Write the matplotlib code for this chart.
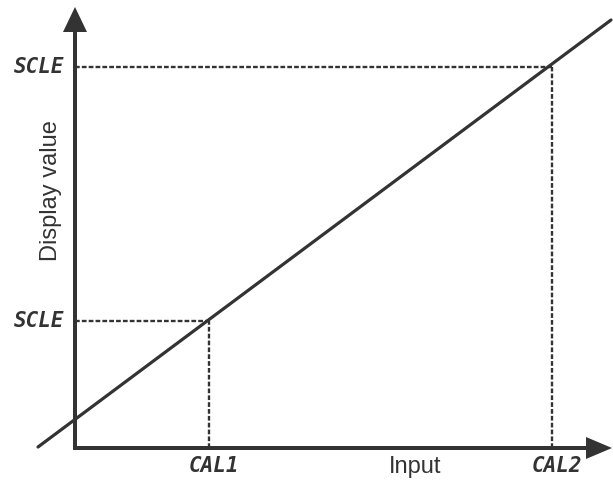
import matplotlib.pyplot as plt

# readings (units: pixels from the axis origin)
cal_inputs = [134, 477]          # CAL1, CAL2 on the input axis
scle_values = [127, 381]         # display value reached at CAL1 / CAL2
line_x = [-37, 536]              # ends of the calibration line
line_y = [1, 428]
cal_labels = ["CAL1", "CAL2"]
scle_labels = ["SCLE", "SCLE"]

ink = "#333333"
seg_font = dict(family="DejaVu Sans Mono", weight="bold", style="oblique",
                fontsize=15, color=ink)

fig = plt.figure(figsize=(6.13, 4.90), dpi=100)
ax = fig.add_axes([0, 0, 1, 1])
ax.set_xlim(-75, 538)
ax.set_ylim(-42, 448)
ax.axis("off")

# axes with arrow heads
ax.arrow(0, 0, 0, 441, width=4, head_width=24, head_length=25,
         length_includes_head=True, color=ink, lw=0)
ax.arrow(-2, 0, 539, 0, width=4, head_width=22, head_length=26,
         length_includes_head=True, color=ink, lw=0)

# dashed guides
for cx, sy in zip(cal_inputs, scle_values):
    ax.plot([0, cx], [sy, sy], color=ink, lw=1.7, dashes=(2, 0.9))
    ax.plot([cx, cx], [0, sy], color=ink, lw=1.7, dashes=(2, 0.9))

ax.plot(line_x, line_y, color=ink, lw=2.3, solid_capstyle="round")

for cx, lab in zip(cal_inputs, cal_labels):
    ax.text(cx + 5, -18, lab, ha="center", va="center", **seg_font)
for sy, lab in zip(scle_values, scle_labels):
    ax.text(-36, sy, lab, ha="center", va="center", **seg_font)

ax.text(340, -19, "Input", ha="center", va="center",
        family="Liberation Sans", fontsize=17, color=ink)
ax.text(-24, 257, "Display value", ha="center", va="center", rotation=90,
        family="Liberation Sans", fontsize=17, color=ink)

fig.savefig("out.png", dpi=100)
